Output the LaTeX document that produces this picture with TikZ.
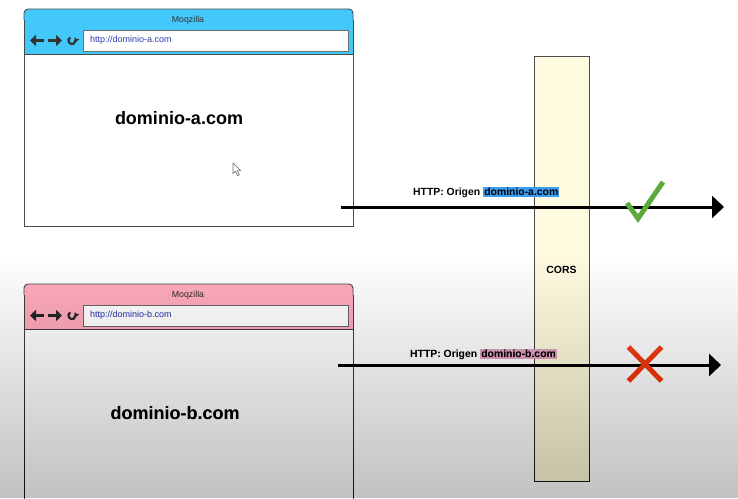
\documentclass[tikz,border=0pt]{standalone}
\usepackage{fontspec}
\setmainfont{Liberation Sans}
\usetikzlibrary{arrows.meta}
\definecolor{barblue}{HTML}{43C8FC}
\definecolor{barpink}{HTML}{FFAFC0}
\definecolor{urlblue}{HTML}{2D3AAE}
\definecolor{corsfill}{HTML}{FFFBE1}
\definecolor{hlblue}{HTML}{3B9CF0}
\definecolor{hlpink}{HTML}{E2AAC4}
\definecolor{okgreen}{HTML}{5DAA3C}
\definecolor{badred}{HTML}{F24E2A}
\definecolor{framegray}{HTML}{4A4A4A}
\begin{document}
\begin{tikzpicture}[x=1pt,y=-1pt,
  frame/.style={draw=framegray, line width=0.9pt},
  urlbox/.style={draw=framegray!80, line width=0.8pt, fill=white, inner sep=0pt, anchor=north west, minimum width=265pt, minimum height=21pt},
  urltext/.style={font=\fontsize{9}{10}\selectfont, text=urlblue, anchor=west, inner sep=0pt},
  titletext/.style={font=\fontsize{8.8}{10}\selectfont, text=black!80, inner sep=0pt},
  bigtext/.style={font=\fontsize{18}{20}\selectfont\bfseries, inner sep=0pt},
  lbltext/.style={font=\fontsize{10.4}{12}\selectfont\bfseries, inner sep=0pt},
  navicon/.style={draw=black!80, line width=2.6pt},
  reload/.style={draw=black!80, line width=2.2pt, -{Triangle[length=3.2pt,width=6pt]}},
  corsbox/.style={draw=framegray, line width=0.9pt, fill=corsfill, inner sep=0pt, anchor=north west, minimum width=55pt, minimum height=425pt},
  flow/.style={line width=3pt, -{Triangle[length=12pt,width=22pt]}},
]
\useasboundingbox (0,0) rectangle (738,498);
\clip (0,0) rectangle (738,498);
\fill[white] (0,0) rectangle (738,498);

% ---------- top browser ----------
\fill[white] (24,54) rectangle (353,226);
\fill[barblue, rounded corners=4] (24,54) -- (24,9) -- (353,9) -- (353,54);
\draw[frame] (24,20) -- (24,226) -- (353,226) -- (353,20);
\draw[frame, rounded corners=4] (24,20) -- (24,9) -- (353,9) -- (353,20);
\draw[frame] (24,54) -- (353,54);
\node[titletext] (titlea) at (188,20) {Moqzilla};
\draw[navicon, -{Triangle[length=6pt,width=11pt]}] (44,40.5) -- (30,40.5);
\draw[navicon, -{Triangle[length=6pt,width=11pt]}] (48,40.5) -- (62,40.5);
\draw[reload] (72,40.5) ++(-120:3.6) arc[start angle=-120, end angle=-395, radius=3.6];
\node[urlbox] (urla) at (83,30) {};
\node[urltext] (urlatext) at (90,40.5) {http://dominio-a.com};
\node[bigtext] (doma) at (179,118) {dominio-a.com};
\draw[black!60, line width=0.6pt, fill=white, line join=round]
  (233,163) -- (233,173.5) -- (235.6,171.2) -- (237.6,175.6) -- (239.3,174.9) -- (237.3,170.6) -- (240.6,170.6) -- cycle;

% ---------- bottom browser ----------
\fill[white] (24,329) rectangle (353,510);
\fill[barpink, rounded corners=4] (24,329) -- (24,284) -- (353,284) -- (353,329);
\draw[frame] (24,295) -- (24,510);
\draw[frame] (353,295) -- (353,510);
\draw[frame, rounded corners=4] (24,295) -- (24,284) -- (353,284) -- (353,295);
\draw[frame] (24,329) -- (353,329);
\node[titletext] (titleb) at (188,295) {Moqzilla};
\draw[navicon, -{Triangle[length=6pt,width=11pt]}] (44,315.5) -- (30,315.5);
\draw[navicon, -{Triangle[length=6pt,width=11pt]}] (48,315.5) -- (62,315.5);
\draw[reload] (72,315.5) ++(-120:3.6) arc[start angle=-120, end angle=-395, radius=3.6];
\node[urlbox] (urlb) at (83,305) {};
\node[urltext] (urlbtext) at (90,315.5) {http://dominio-b.com};
\node[bigtext] (domb) at (175,413) {dominio-b.com};

% ---------- CORS ----------
\node[corsbox] (cors) at (534,56) {};
\node[lbltext] (corslbl) at (561.5,270) {CORS};

% ---------- flows ----------
\coordinate (a1s) at (341,207);
\coordinate (a1e) at (724,207);
\coordinate (a2s) at (338,365);
\coordinate (a2e) at (721,365);
\draw[flow] (a1s) -- (a1e);
\draw[flow] (a2s) -- (a2e);
\node[lbltext, anchor=west] (lbla) at (413,192) {HTTP: Origen {\setlength{\fboxsep}{1.2pt}\colorbox{hlblue}{dominio-a.com}}};
\node[lbltext, anchor=west] (lblb) at (410,354) {HTTP: Origen {\setlength{\fboxsep}{1.2pt}\colorbox{hlpink}{dominio-b.com}}};

% check and cross
\draw[okgreen, line width=5pt, line join=miter] (627,203) -- (638,218.5) -- (663,182);
\draw[badred, line width=5pt] (628.5,347) -- (661.5,381);
\draw[badred, line width=5pt] (661.5,347) -- (628.5,381);

% ---------- grey vignette at the bottom ----------
\foreach \i in {0,...,60} {
  \fill[black, fill opacity=0.0043] (0,{255+4*\i}) rectangle (738,498);
}
\end{tikzpicture}
\end{document}
